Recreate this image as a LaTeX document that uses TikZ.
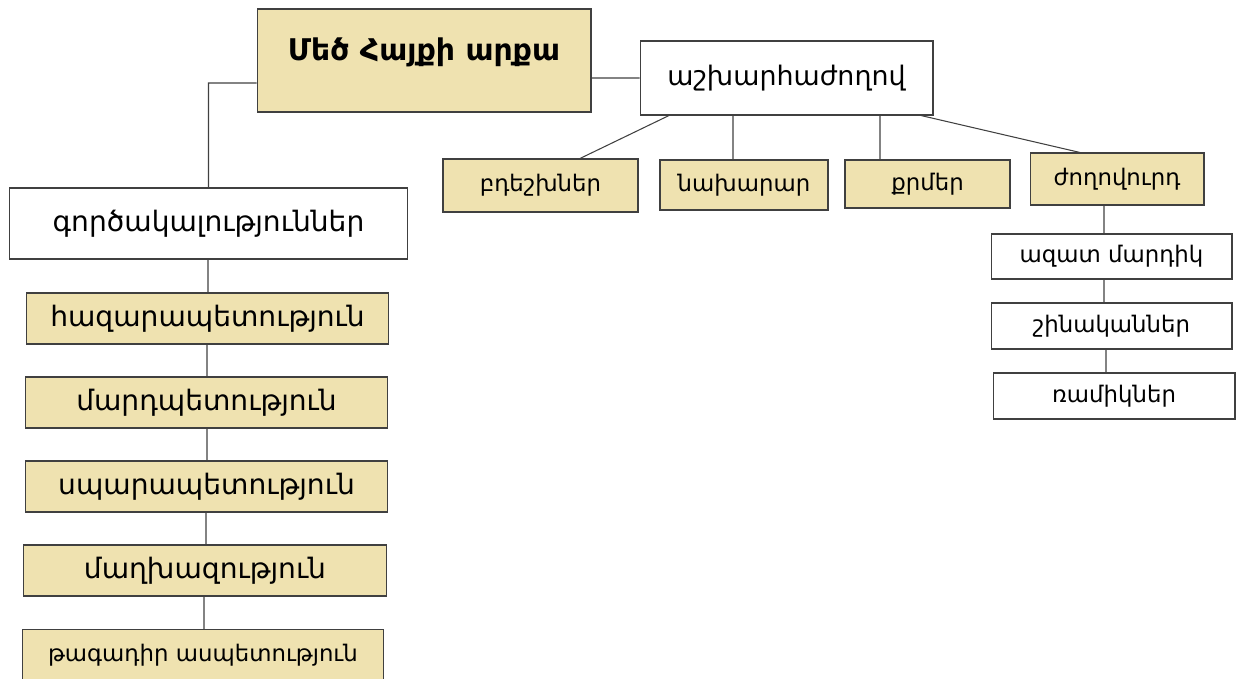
\documentclass[tikz,border=0pt]{standalone}
\usepackage{fontspec}
\setmainfont{DejaVu Sans}
\usepackage{tikz}
\usetikzlibrary{positioning}
\definecolor{boxfill}{RGB}{239,226,176}
\definecolor{boxline}{RGB}{64,64,64}

\begin{document}
\begin{tikzpicture}[x=0.02cm, y=-0.02cm,
  every node/.style={draw=boxline, line width=0.6pt, inner sep=0pt, font=\fontsize{13}{15}\selectfont},
  yellowbox/.style={fill=boxfill},
  whitebox/.style={fill=white},
  big/.style={font=\fontsize{16}{19}\selectfont},
  link/.style={draw=boxline, line width=0.6pt}]
\useasboundingbox (0,0) rectangle (1244,679);

% king and assembly
\node[yellowbox, minimum width=6.68cm, minimum height=2.06cm, text depth=0.45cm, font=\bfseries\fontsize{17}{20}\selectfont] (king) at (424,60.5) {Մեծ Հայքի արքա};
\node[whitebox, font=\fontsize{15.3}{18}\selectfont, minimum width=5.86cm, minimum height=1.48cm] (gov) at (786.5,78) {աշխարհաժողով};

% assembly members
\node[yellowbox, minimum width=3.9cm, minimum height=1.06cm] (bdesh) at (540.5,185.5) {բդեշխներ};
\node[yellowbox, minimum width=3.36cm, minimum height=1.0cm] (nakh) at (744,185) {նախարար};
\node[yellowbox, minimum width=3.3cm, minimum height=0.96cm] (qrm) at (927.5,184) {քրմեր};
\node[yellowbox, minimum width=3.48cm, minimum height=1.04cm] (people) at (1117,179) {ժողովուրդ};
\node[whitebox, minimum width=4.82cm, minimum height=0.9cm] (free) at (1111.5,256.5) {ազատ մարդիկ};
\node[whitebox, minimum width=4.82cm, minimum height=0.92cm] (peas) at (1111.5,326) {շինականներ};
\node[whitebox, minimum width=4.84cm, minimum height=0.92cm] (ramik) at (1114,396) {ռամիկներ};

% offices
\node[whitebox, big, minimum width=7.98cm, minimum height=1.42cm] (gorts) at (208.5,223.5) {գործակալություններ};
\node[yellowbox, big, minimum width=7.26cm, minimum height=1.02cm] (hazar) at (207.5,318.5) {հազարապետություն};
\node[yellowbox, big, minimum width=7.26cm, minimum height=1.02cm] (mard) at (206.5,402.5) {մարդպետություն};
\node[yellowbox, big, minimum width=7.26cm, minimum height=1.02cm] (spar) at (206.5,486.5) {սպարապետություն};
\node[yellowbox, big, minimum width=7.28cm, minimum height=1.02cm] (maghkh) at (205,570.5) {մաղխազություն};
\node[yellowbox, minimum width=7.24cm, minimum height=1.02cm] (tagadir) at (203,655) {թագադիր ասպետություն};

\draw[link]
  (king.east |- gov.west) -- (gov.west)
  ([yshift=-0.45cm]king.west) -| (gorts.north)
  (gov.south -| 669,0) -- (bdesh.north -| 580,0)
  (gov.south -| 733,0) -- (nakh.north -| 733,0)
  (gov.south -| 880,0) -- (qrm.north -| 880,0)
  (gov.south -| 921,0) -- (people.north -| 1080,0)
  (people.south -| 1104,0) -- (free.north -| 1104,0)
  (free.south -| 1104,0) -- (peas.north -| 1104,0)
  (peas.south -| 1106,0) -- (ramik.north -| 1106,0)
  (gorts.south -| 208,0) -- (hazar.north -| 208,0)
  (hazar.south -| 207,0) -- (mard.north -| 207,0)
  (mard.south -| 207,0) -- (spar.north -| 207,0)
  (spar.south -| 206,0) -- (maghkh.north -| 206,0)
  (maghkh.south -| 204,0) -- (tagadir.north -| 204,0)
;
\end{tikzpicture}
\end{document}
